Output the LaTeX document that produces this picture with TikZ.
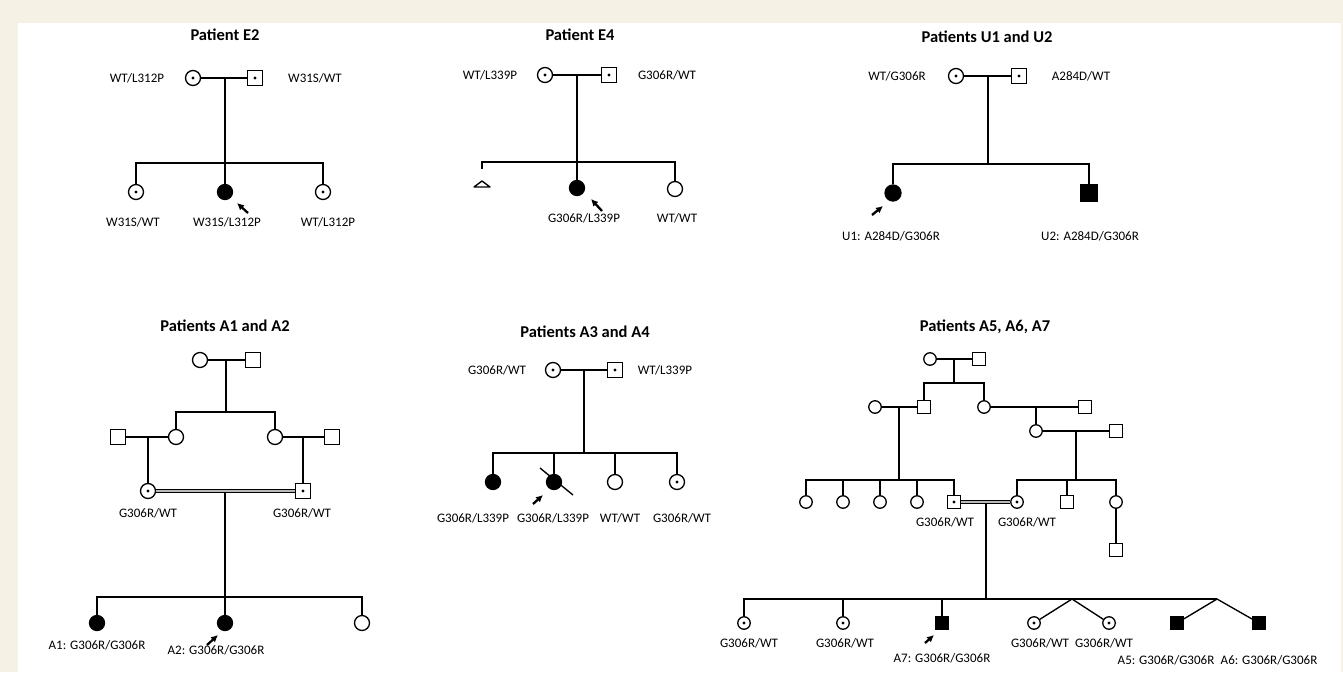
\documentclass[tikz,border=0pt]{standalone}
\usepackage{fontspec}
\setmainfont{Carlito}
\usetikzlibrary{arrows.meta}
\definecolor{framebeige}{RGB}{245,241,228}

\tikzset{
  fem/.style={circle,draw,line width=1.3pt,minimum size=15pt,inner sep=0pt},
  mal/.style={rectangle,draw,line width=1.3pt,minimum size=14.5pt,inner sep=0pt},
  smallind/.style={minimum size=12.5pt},
  bigind/.style={minimum size=16pt},
  carrier/.style={path picture={\fill[black] (path picture bounding box.center) circle (1.7pt);}},
  affected/.style={fill=black},
  geno/.style={font=\fontsize{13}{15}\selectfont},
  ttl/.style={font=\fontsize{16.5}{19}\selectfont\bfseries},
  proband/.style={-{Latex[length=7pt,width=7pt]},line width=2.3pt},
  consang/.style={double=gray!55,double distance=2.2pt,line width=1.1pt},
}

\begin{document}
\begin{tikzpicture}[x=1pt,y=-1pt,line width=1.35pt]
 % frame and page
 \useasboundingbox (0,0) rectangle (1343,672);
 \fill[framebeige] (0,0) rectangle (1343,672);
 \fill[white] (18,23) rectangle (1341,672);

 % Patient E2
 \node[ttl] (e2title) at (225,35) {Patient E2};
 \node[fem,carrier] (e2mo) at (193,78) {};
 \node[mal,carrier] (e2fa) at (255,78) {};
 \node[geno] (e2mol) at (137,78) {WT/L312P};
 \node[geno] (e2fal) at (315,78) {W31S/WT};
 \coordinate (e2j) at (225,78);
 \coordinate (e2s) at (225,163);
 \node[fem,carrier] (e2c1) at (136,192) {};
 \node[fem,affected] (e2c2) at (225,192) {};
 \node[fem,carrier] (e2c3) at (323,192) {};
 \node[geno] (e2l1) at (133,222) {W31S/WT};
 \node[geno] (e2l2) at (227,222) {W31S/L312P};
 \node[geno] (e2l3) at (328,222) {WT/L312P};
 \draw (e2mo) -- (e2fa);
 \draw (e2j) -- (e2c2);
 \draw (e2c1) -- (e2c1 |- e2s) -- (e2c3 |- e2s) -- (e2c3);
 \draw[proband] ([shift={(23,21)}]e2c2.center) -- ([shift={(12,11)}]e2c2.center);

 % Patient E4
 \node[ttl] (e4title) at (580,35) {Patient E4};
 \node[fem,carrier] (e4mo) at (545,75) {};
 \node[mal,carrier] (e4fa) at (609,75) {};
 \node[geno] (e4mol) at (490,75) {WT/L339P};
 \node[geno] (e4fal) at (667,75) {G306R/WT};
 \coordinate (e4j) at (577,75);
 \coordinate (e4s) at (577,162);
 \coordinate (e4c1) at (482,169);
 \coordinate (e4tri) at (482,181);
 \node[fem,affected] (e4c2) at (577,188) {};
 \node[fem] (e4c3) at (675,189) {};
 \node[geno] (e4l2) at (584,218) {G306R/L339P};
 \node[geno] (e4l3) at (677,218) {WT/WT};
 \draw (e4mo) -- (e4fa);
 \draw (e4j) -- (e4c2);
 \draw (e4c1) -- (e4c1 |- e4s) -- (e4c3 |- e4s) -- (e4c3);
 % miscarriage
 \draw[line join=round] (e4tri) -- ++(8,6) -- ++(-16,0) -- cycle;
 \draw[proband] ([shift={(25,23)}]e4c2.center) -- ([shift={(14,11)}]e4c2.center);

 % Patients U1 and U2
 \node[ttl] (u1title) at (987,37) {Patients U1 and U2};
 \node[fem,carrier] (u1mo) at (956,76) {};
 \node[mal,carrier] (u1fa) at (1019,76) {};
 \node[geno] (u1mol) at (897,76) {WT/G306R};
 \node[geno] (u1fal) at (1081,76) {A284D/WT};
 \coordinate (u1j) at (988,76);
 \coordinate (u1s) at (988,164);
 \node[fem,bigind,affected] (u1c1) at (893,193) {};
 \node[mal,bigind,affected] (u1c2) at (1089,193) {};
 \node[geno] (u1l1) at (891,236) {U1: A284D/G306R};
 \node[geno] (u1l2) at (1090,236) {U2: A284D/G306R};
 \draw (u1mo) -- (u1fa);
 \draw (u1j) -- (u1s);
 \draw (u1c1) -- (u1c1 |- u1s) -- (u1c2 |- u1s) -- (u1c2);
 \draw[proband] ([shift={(-21,22)}]u1c1.center) -- ([shift={(-10,13)}]u1c1.center);

 % Patients A1 and A2
 \node[ttl] (a1title) at (225,326) {Patients A1 and A2};
 \node[fem] (a1g1) at (200,360) {};
 \node[mal] (a1g2) at (253,360) {};
 \coordinate (a1j) at (226,360);
 \coordinate (a1s) at (226,412);
 \node[mal] (a1p1) at (118,437) {};
 \node[fem] (a1d1) at (176,437) {};
 \node[fem] (a1d2) at (275,437) {};
 \node[mal] (a1p2) at (332,437) {};
 \coordinate (a1j1) at (148,437);
 \coordinate (a1j2) at (303,437);
 \node[fem,carrier] (a1mo) at (148,491) {};
 \node[mal,carrier] (a1fa) at (303,491) {};
 \node[geno] (a1mol) at (148,513) {G306R/WT};
 \node[geno] (a1fal) at (302,513) {G306R/WT};
 \coordinate (a1j3) at (225,491);
 \coordinate (a1s3) at (225,597);
 \node[fem,affected] (a1c1) at (97,623) {};
 \node[fem,affected] (a1c2) at (225,623) {};
 \node[fem] (a1c3) at (362,623) {};
 \node[geno] (a1l1) at (97,645) {A1: G306R/G306R};
 \node[geno] (a1l2) at (216,650) {A2: G306R/G306R};
 \draw (a1g1) -- (a1g2);
 \draw (a1j) -- (a1s);
 \draw (a1d1) -- (a1d1 |- a1s) -- (a1d2 |- a1s) -- (a1d2);
 \draw (a1p1) -- (a1d1);
 \draw (a1d2) -- (a1p2);
 \draw (a1j1) -- (a1mo);
 \draw (a1j2) -- (a1fa);
 \draw (a1j3) -- (a1c2);
 \draw (a1c1) -- (a1c1 |- a1s3) -- (a1c3 |- a1s3) -- (a1c3);
 \draw[consang] (a1mo) -- (a1fa);
 \draw[proband] ([shift={(-18,22)}]a1c2.center) -- ([shift={(-7,12)}]a1c2.center);

 % Patients A3 and A4
 \node[ttl] (a3title) at (585,332) {Patients A3 and A4};
 \node[fem,carrier] (a3mo) at (553,370) {};
 \node[mal,carrier] (a3fa) at (615,370) {};
 \node[geno] (a3mol) at (497,370) {G306R/WT};
 \node[geno] (a3fal) at (665,370) {WT/L339P};
 \coordinate (a3j) at (584,370);
 \coordinate (a3s) at (584,453);
 \node[fem,affected] (a3c1) at (493,482) {};
 \node[fem,affected] (a3c2) at (554,482) {};
 \node[fem] (a3c3) at (615,482) {};
 \node[fem,carrier] (a3c4) at (677,482) {};
 \node[geno] (a3l1) at (473,518) {G306R/L339P};
 \node[geno] (a3l2) at (553,518) {G306R/L339P};
 \node[geno] (a3l3) at (620,518) {WT/WT};
 \node[geno] (a3l4) at (682,518) {G306R/WT};
 \draw (a3mo) -- (a3fa);
 \draw (a3j) -- (a3s);
 \draw (a3c1) -- (a3c1 |- a3s) -- (a3c4 |- a3s) -- (a3c4);
 \draw (a3c2) -- (a3c2 |- a3s);
 \draw (a3c3) -- (a3c3 |- a3s);
 % deceased
 \draw ([shift={(-14,-14)}]a3c2.center) -- ([shift={(19,13)}]a3c2.center);
 \draw[proband] ([shift={(-21,22)}]a3c2.center) -- ([shift={(-11,13)}]a3c2.center);

 % Patients A5, A6, A7
 \node[ttl] (a5title) at (985,327) {Patients A5, A6, A7};
 \node[fem,smallind] (a5g1) at (930,359) {};
 \node[mal,smallind] (a5g2) at (979,359) {};
 \coordinate (a5j) at (954,359);
 \coordinate (a5s) at (954,383);
 \node[fem,smallind] (a5w1) at (875,407) {};
 \node[mal,smallind] (a5s1) at (924,407) {};
 \node[fem,smallind] (a5d1) at (984,407) {};
 \node[mal,smallind] (a5h1) at (1085,407) {};
 \coordinate (a5j2) at (899,407);
 \coordinate (a5s2) at (899,480);
 \coordinate (a5j3) at (1036,407);
 \node[fem,smallind] (a5d2) at (1036,431) {};
 \node[mal,smallind] (a5h2) at (1116,431) {};
 \coordinate (a5j4) at (1076,431);
 \coordinate (a5s4) at (1076,480);
 \draw (a5g1) -- (a5g2);
 \draw (a5j) -- (a5s);
 \draw (a5s1) -- (a5s1 |- a5s) -- (a5d1 |- a5s) -- (a5d1);
 \draw (a5w1) -- (a5s1);
 \draw (a5j2) -- (a5s2);
 \draw (a5d1) -- (a5h1);
 \draw (a5j3) -- (a5d2);
 \draw (a5d2) -- (a5h2);
 \draw (a5j4) -- (a5s4);

 % cousins and the parents
 \foreach \i/\x in {1/806,2/843,3/880,4/917}
   \node[fem,smallind] (a5b\i) at (\x,502) {};
 \node[mal,smallind,carrier] (a5fa) at (954,502) {};
 \node[fem,smallind,carrier] (a5mo) at (1017,502) {};
 \node[mal,smallind] (a5r2) at (1067,502) {};
 \node[fem,smallind] (a5r3) at (1116,502) {};
 \node[mal,smallind] (a5r4) at (1116,550) {};
 \node[geno] (a5fal) at (945,522) {G306R/WT};
 \node[geno] (a5mol) at (1027,522) {G306R/WT};
 \draw (a5b1) -- (a5b1 |- a5s2) -- (a5fa |- a5s2) -- (a5fa);
 \foreach \i in {2,3,4}
   \draw (a5b\i) -- (a5b\i |- a5s2);
 \draw (a5mo) -- (a5mo |- a5s4) -- (a5r3 |- a5s4) -- (a5r3);
 \draw (a5r2) -- (a5r2 |- a5s4);
 \draw (a5r3) -- (a5r4);
 \coordinate (a5j5) at (986,502);
 \coordinate (a5s5) at (986,599);
 \draw (a5j5) -- (a5s5);
 \draw[consang] (a5fa) -- (a5mo);

 % the children
 \coordinate (a5tw1) at (1072,599);
 \coordinate (a5tw2) at (1217,599);
 \node[fem,smallind,carrier] (a5k1) at (744,623) {};
 \node[fem,smallind,carrier] (a5k2) at (843,623) {};
 \node[mal,smallind,affected] (a5k3) at (942,623) {};
 \node[fem,smallind,carrier] (a5k4) at (1034,623) {};
 \node[fem,smallind,carrier] (a5k5) at (1109,623) {};
 \node[mal,smallind,affected] (a5k6) at (1177,623) {};
 \node[mal,smallind,affected] (a5k7) at (1259,623) {};
 \draw (a5k1) -- (a5k1 |- a5s5) -- (a5tw2);
 \draw (a5k2) -- (a5k2 |- a5s5);
 \draw (a5k3) -- (a5k3 |- a5s5);
 \draw (a5k4) -- (a5tw1) -- (a5k5);
 \draw (a5k6) -- (a5tw2) -- (a5k7);
 \node[geno] (a5l1) at (749,643) {G306R/WT};
 \node[geno] (a5l2) at (845,643) {G306R/WT};
 \node[geno] (a5l4) at (1040,643) {G306R/WT};
 \node[geno] (a5l5) at (1104,643) {G306R/WT};
 \node[geno] (a5l3) at (942,658) {A7: G306R/G306R};
 \node[geno] (a5l6) at (1166,660) {A5: G306R/G306R};
 \node[geno] (a5l7) at (1269,660) {A6: G306R/G306R};
 \draw[proband] ([shift={(-17,20)}]a5k3.center) -- ([shift={(-8,12)}]a5k3.center);
\end{tikzpicture}
\end{document}
